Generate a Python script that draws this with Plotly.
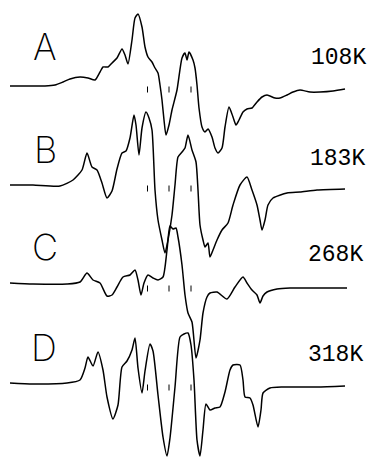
import plotly.graph_objects as go

# Field positions (arbitrary units) and first-derivative EPR amplitudes (arbitrary units, up = positive)
field_A = [10,30,45,55,63,70,80,88,95,100,103,108,112,117,122,125,128,132,135,138,142,145,148,152,155,158,160,162,164,166,169,172,177,182,185,187,189,193,195,197,199,202,205,208,212,215,218,222,225,229,233,236,239,243,247,252,257,262,267,275,280,287,293,300,310,320,333,345]
amp_A = [0,0,0,1,4,7,9,8,6,14,19,19,23,28,37,31,22,46,68,72,59,39,29,24,18,13,1,-14,-34,-49,-39,-24,-4,28,33,26,34,26,18,1,-22,-41,-46,-43,-51,-62,-67,-62,-41,-21,-31,-39,-34,-26,-23,-22,-16,-11,-9,-12,-12,-9,-6,-4,-6,-6,-5,-3]

field_B = [10,33,60,73,82,87,92,97,102,107,112,117,122,126,130,134,136,139,142,146,149,152,155,158,162,165,168,172,175,178,182,185,188,192,196,198,200,203,205,208,210,213,217,222,228,233,240,247,252,257,260,262,265,268,273,287,300,317,345]
amp_B = [0,0,-1,5,15,32,18,15,2,-13,-6,16,32,34,47,70,60,30,57,73,67,55,-5,-35,-55,-68,-55,-30,0,28,33,37,50,35,23,-5,-40,-55,-62,-58,-72,-65,-55,-45,-38,-20,0,8,-5,-20,-35,-45,-35,-20,-13,-8,-7,-5,-4]

field_C = [10,33,67,80,87,93,100,107,112,117,123,130,135,138,141,144,148,153,158,163,167,170,173,176,178,182,185,188,192,196,200,203,207,210,217,227,235,243,247,252,257,260,263,267,277,290,313,347]
amp_C = [2,1,1,3,12,5,2,-11,-10,-2,8,10,15,5,-10,2,10,7,5,8,35,59,56,57,48,20,-10,-28,-37,-73,-55,-28,-12,-8,-7,-14,-2,8,2,-5,-10,-18,-11,-7,-4,-3,-3,-3]

field_D = [10,33,67,80,85,88,93,98,103,107,113,118,122,127,132,135,138,142,145,150,153,158,163,167,170,175,180,184,188,191,194,197,200,203,206,210,215,220,225,230,233,240,243,245,250,253,258,261,263,270,283,317,345]
amp_D = [1,0,1,4,16,27,18,32,14,-13,-35,-21,17,23,34,46,16,-9,13,40,33,-11,-53,-72,-54,-3,47,50,51,39,4,-56,-72,-46,-20,-26,-24,-23,-8,14,19,19,4,-13,-14,-21,-43,-26,-9,-4,-3,-3,-2]

labels = ["A", "B", "C", "D"]
temps = ["108K", "183K", "268K", "318K"]
marker_fields = [147.5, 169, 191]

series = [(field_A, amp_A), (field_B, amp_B), (field_C, amp_C), (field_D, amp_D)]
# vertical stacking offsets (layout)
offsets = [-86, -185, -285, -384]
label_pos = [(45, -47), (45, -150), (45, -247), (44, -348)]
temp_pos = [(338, -58), (337, -159), (335, -255), (335, -355)]

fig = go.Figure()
for (fx, ay), off in zip(series, offsets):
    fig.add_trace(go.Scatter(
        x=fx, y=[a + off for a in ay], mode="lines",
        line=dict(color="black", width=1.5, shape="spline", smoothing=0.6),
        hoverinfo="skip", showlegend=False))
    tx, ty = [], []
    for m in marker_fields:
        tx += [m, m, None]
        ty += [off - 0.5, off - 6.5, None]
    fig.add_trace(go.Scatter(x=tx, y=ty, mode="lines",
                             line=dict(color="black", width=1),
                             hoverinfo="skip", showlegend=False))

for lab, (x, y) in zip(labels, label_pos):
    fig.add_annotation(x=x, y=y, text=lab, showarrow=False, xref="x", yref="y",
                       font=dict(family="Inter", size=36, color="black", weight=200))
for t, (x, y) in zip(temps, temp_pos):
    fig.add_annotation(x=x, y=y, text=t, showarrow=False, xref="x", yref="y",
                       font=dict(family="Liberation Mono", size=23, color="black"))

# the page body has an 8px margin, so the plot area starts at window pixel 8
fig.update_layout(
    width=371, height=449, margin=dict(l=0, r=0, t=0, b=0),
    paper_bgcolor="white", plot_bgcolor="white",
    xaxis=dict(range=[8, 379], visible=False, fixedrange=True),
    yaxis=dict(range=[-457, -8], visible=False, fixedrange=True),
)
fig.write_html("out.html")
